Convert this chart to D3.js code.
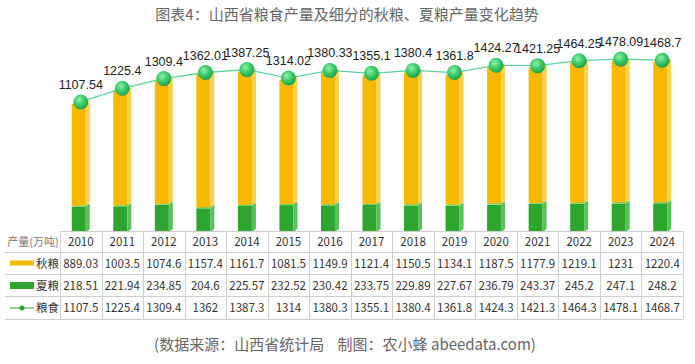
<!DOCTYPE html>
<html>
<head>
<meta charset="utf-8">
<script src="https://cdn.jsdelivr.net/npm/d3@7"></script>
<style>
  body { margin: 0; background: #fff; }
  svg { display: block; font-family: "Noto Sans CJK SC", "Noto Sans", sans-serif; }
</style>
</head>
<body>
<div id="chart"></div>
<script>
const years = ['2010', '2011', '2012', '2013', '2014', '2015', '2016', '2017', '2018', '2019', '2020', '2021', '2022', '2023', '2024'];
const autumn = [889.03, 1003.5, 1074.6, 1157.4, 1161.7, 1081.5, 1149.9, 1121.4, 1150.5, 1134.1, 1187.5, 1177.9, 1219.1, 1231, 1220.4];
const summer = [218.51, 221.94, 234.85, 204.6, 225.57, 232.52, 230.42, 233.75, 229.89, 227.67, 236.79, 243.37, 245.2, 247.1, 248.2];
const total = [1107.54, 1225.4, 1309.4, 1362.01, 1387.25, 1314.02, 1380.33, 1355.1, 1380.4, 1361.8, 1424.27, 1421.25, 1464.25, 1478.09, 1468.7];
const seriesNames = ['秋粮', '夏粮', '粮食'];

let width = 695,
    height = 364;

let svg = d3.select('#chart').append('svg')
    .attr('width', width)
    .attr('height', height);

let defs = svg.append('defs');
let ballGrad = defs.append('radialGradient')
    .attr('id', 'ball')
    .attr('cx', '40%').attr('cy', '35%').attr('r', '65%');
ballGrad.append('stop').attr('offset', '0%').attr('stop-color', '#8ff0a8');
ballGrad.append('stop').attr('offset', '55%').attr('stop-color', '#3cc96a');
ballGrad.append('stop').attr('offset', '100%').attr('stop-color', '#1fa24c');

// title
svg.append('text')
    .attr('x', 347).attr('y', 20)
    .attr('text-anchor', 'middle')
    .attr('font-size', 15)
    .attr('fill', '#666')
    .text('图表4：山西省粮食产量及细分的秋粮、夏粮产量变化趋势');

let xScale = d3.scaleBand()
    .domain(years)
    .range([60, 683]);

let yScale = d3.scaleLinear()
    .domain([0, 1600])
    .range([232, 47]);

let data = years.map((y, i) => ({year: y, autumn: autumn[i], summer: summer[i], total: total[i]}));

// 3d column pieces
function drawBlock(g, cx, y0, y1, c) {
    let l = cx - 9, m = cx + 5, r = cx + 9, d = 3;
    g.append('rect')
        .attr('x', l).attr('y', y1)
        .attr('width', m - l).attr('height', y0 - y1)
        .attr('fill', c.front);
    g.append('polygon')
        .attr('points', `${m},${y1} ${r},${y1 - d} ${r},${y0 - d} ${m},${y0}`)
        .attr('fill', c.side);
    g.append('polygon')
        .attr('points', `${l},${y1} ${m},${y1} ${r},${y1 - d} ${l + 4},${y1 - d}`)
        .attr('fill', c.top);
}

let yellow = {front: '#f6b900', side: '#fbd04a', top: '#fddc72'};
let green = {front: '#2ea52e', side: '#58c158', top: '#72d072'};

let bar_g = svg.append('g').attr('class', 'bars');
data.forEach(d => {
    let cx = xScale(d.year) + xScale.bandwidth() / 2;
    let g = bar_g.append('g');
    drawBlock(g, cx, yScale(0), yScale(d.summer), green);
    drawBlock(g, cx, yScale(d.summer) - 1, yScale(d.summer + d.autumn), yellow);
});

// total line
let line = d3.line()
    .x(d => xScale(d.year) + xScale.bandwidth() / 2)
    .y(d => yScale(d.total) - 2);

svg.append('path')
    .datum(data)
    .attr('d', line)
    .attr('fill', 'none')
    .attr('stroke', '#5dd49c')
    .attr('stroke-width', 1.3);

svg.selectAll('.ball')
    .data(data)
    .join('circle')
    .attr('class', 'ball')
    .attr('cx', d => xScale(d.year) + xScale.bandwidth() / 2)
    .attr('cy', d => yScale(d.total) - 2)
    .attr('r', 7.5)
    .attr('fill', 'url(#ball)');

svg.selectAll('.vlabel')
    .data(data)
    .join('text')
    .attr('class', 'vlabel')
    .attr('x', d => xScale(d.year) + xScale.bandwidth() / 2)
    .attr('y', d => yScale(d.total) - 15)
    .attr('text-anchor', 'middle')
    .attr('font-family', '"Liberation Sans", Arial, sans-serif')
    .attr('font-size', 12.5)
    .attr('fill', '#222')
    .text(d => String(d.total));

// data table
let rowLines = [231.5, 252.5, 274.5, 296.5, 319.5];
let rowMid = i => (rowLines[i] + rowLines[i + 1]) / 2;
let table_g = svg.append('g').attr('class', 'table');
let gridColor = '#cfcfcf';

table_g.append('line')
    .attr('x1', 60).attr('x2', 683)
    .attr('y1', rowLines[0]).attr('y2', rowLines[0])
    .attr('stroke', gridColor);
rowLines.slice(1).forEach(y => {
    table_g.append('line')
        .attr('x1', 5).attr('x2', 683)
        .attr('y1', y).attr('y2', y)
        .attr('stroke', gridColor);
});
xScale.domain().forEach(y => {
    table_g.append('line')
        .attr('x1', Math.round(xScale(y)) + 0.5).attr('x2', Math.round(xScale(y)) + 0.5)
        .attr('y1', rowLines[0]).attr('y2', rowLines[4])
        .attr('stroke', gridColor);
});
table_g.append('line')
    .attr('x1', 683.5).attr('x2', 683.5)
    .attr('y1', rowLines[0]).attr('y2', rowLines[4])
    .attr('stroke', gridColor);

table_g.append('text')
    .attr('x', 33).attr('y', rowMid(0) + 4)
    .attr('text-anchor', 'middle')
    .attr('font-size', 11)
    .attr('fill', '#777')
    .text('产量(万吨)');

let rows = [
    autumn.map(String),
    summer.map(String),
    total.map(v => String(+v.toFixed(1)))
];

years.forEach((y, i) => {
    let cx = xScale(y) + xScale.bandwidth() / 2;
    table_g.append('text')
        .attr('x', cx).attr('y', rowMid(0) + 4)
        .attr('text-anchor', 'middle')
        .attr('font-size', 11.5)
        .attr('fill', '#333')
        .text(y);
    rows.forEach((r, j) => {
        table_g.append('text')
            .attr('x', cx).attr('y', rowMid(j + 1) + 4)
            .attr('text-anchor', 'middle')
            .attr('font-size', 11.5)
            .attr('fill', '#333')
            .text(r[i]);
    });
});

// legend cells
table_g.append('rect')
    .attr('x', 10).attr('y', rowMid(1) - 3)
    .attr('width', 24).attr('height', 5)
    .attr('fill', '#f6b900');
table_g.append('rect')
    .attr('x', 10).attr('y', rowMid(2) - 3.5)
    .attr('width', 24).attr('height', 7)
    .attr('fill', '#2ea52e');
table_g.append('line')
    .attr('x1', 10).attr('x2', 34)
    .attr('y1', rowMid(3)).attr('y2', rowMid(3))
    .attr('stroke', '#2ea52e').attr('stroke-width', 1);
table_g.append('circle')
    .attr('cx', 22).attr('cy', rowMid(3)).attr('r', 2.5)
    .attr('fill', '#2ea52e');
seriesNames.forEach((n, j) => {
    table_g.append('text')
        .attr('x', 36).attr('y', rowMid(j + 1) + 4)
        .attr('font-size', 11.5)
        .attr('fill', '#333')
        .text(n);
});

// source
svg.append('text')
    .attr('x', 345).attr('y', 350)
    .attr('text-anchor', 'middle')
    .attr('font-size', 15)
    .attr('fill', '#666')
    .text('(数据来源：山西省统计局\u00a0\u00a0\u00a0\u00a0制图：农小蜂 abeedata.com)');
</script>
</body>
</html>
